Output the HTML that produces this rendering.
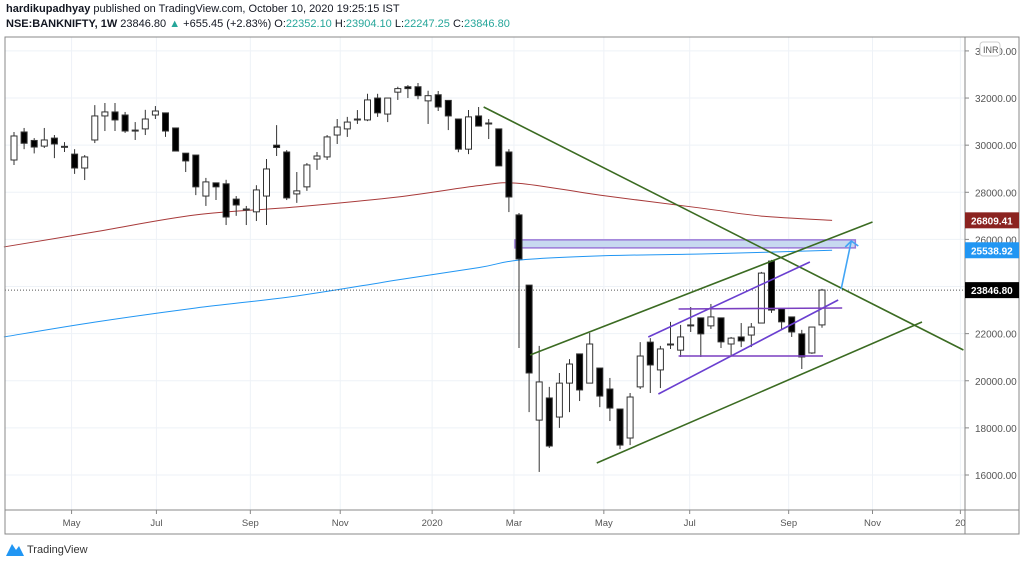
<!DOCTYPE html>
<html><head><meta charset="utf-8">
<style>
body{margin:0;background:#fff;width:1024px;height:564px;overflow:hidden;font-family:"Liberation Sans",sans-serif}
#hdr1{position:absolute;left:6px;top:3px;font-size:11px;color:#131722}
#hdr2{position:absolute;left:6px;top:18px;font-size:11px;color:#131722}
.g{color:#26a69a}
svg{position:absolute;left:0;top:0}
</style></head><body>
<div id="hdr1"><b>hardikupadhyay</b> published on TradingView.com, October 10, 2020 19:25:15 IST</div>
<div id="hdr2"><b>NSE:BANKNIFTY, 1W</b> 23846.80 <span class="g">▲</span> +655.45 (+2.83%) O:<span class="g">22352.10</span> H:<span class="g">23904.10</span> L:<span class="g">22247.25</span> C:<span class="g">23846.80</span></div>
<svg id="c" width="1024" height="564"></svg>
<script>
const opens=[29370,30560,30200,29960,30300,29950,29620,29030,30220,31240,31410,31280,30640,30690,31280,31370,30730,29660,29580,27840,28400,28360,27710,27290,27170,27840,30000,29710,27930,28230,29410,29500,30430,30690,31110,31070,32000,31320,32250,32480,32480,31880,32140,31900,31110,29830,31240,30940,30690,29710,27040,24060,18330,19270,18460,19900,21140,19900,20540,19650,18800,17570,19740,21640,20460,21560,21300,22370,22670,22330,22670,21560,21860,21940,22450,25080,23050,22710,21990,21180,22370];
const highs=[30560,30730,30300,30730,30430,30130,29830,29580,31700,31790,31790,31410,30980,31500,31660,31370,30730,29660,29580,28610,28400,28530,27840,27420,28300,29410,30850,29790,28860,29240,29710,30430,31110,31200,31490,32180,32180,32000,32480,32550,32640,32310,32300,31900,31110,31490,31620,31110,30690,29830,27120,24060,21480,19740,20330,20920,21140,22030,20540,20120,18800,19480,21640,21810,21480,22500,22370,23130,22670,23260,22670,21860,22450,22450,24620,25130,23050,22710,22160,22280,23900];
const lows=[29160,29830,29650,29880,29450,29710,28780,28520,30090,30600,30600,30520,30220,30430,31110,30350,29750,28860,27880,27420,27670,26610,27000,26610,26780,26610,29540,27670,27550,28060,28950,29370,30050,30350,30900,31020,31200,30980,31920,32000,31950,30900,31450,30640,29700,29620,30810,30260,29120,27160,21390,18670,16130,17150,18000,18670,19140,19900,18880,18290,17100,17270,19650,19480,19690,21350,21010,22070,21010,22200,21390,21090,21430,21430,22450,22880,22160,21860,20500,21140,22250];
const closes=[30390,30080,29920,30220,30050,29950,29030,29500,31240,31410,31070,30600,30640,31110,31450,30600,29750,29330,28230,28440,28230,26950,27460,27290,28100,28990,29900,27760,28060,29160,29540,30350,30770,30980,31110,31920,31370,32000,32400,32400,32100,32100,31620,31240,29830,31200,30810,30940,29120,27800,25170,20330,19950,17230,19900,20710,19610,21560,19350,18840,17270,19310,21050,20670,21350,21560,21860,22370,21990,22710,21650,21810,21690,22280,24570,23000,22500,22070,21010,22280,23850];
const maIdx=[-1,8,18,28,38,46,50,58,68,74,81];
const maRed=[25680,26320,27040,27380,27800,28280,28380,27880,27330,26990,26809.41];
const maBlue=[21860,22490,23090,23600,24280,24800,25120,25300,25380,25450,25538.92];
const priceTicks=[34000,32000,30000,28000,26000,24000,22000,20000,18000,16000];
const monthLabels=["May","Jul","Sep","Nov","2020","Mar","May","Jul","Sep","Nov","20"];
const monthPos=[5.7,14.1,23.4,32.3,41.4,49.5,58.4,66.9,76.7,85.0,93.7];
const trendlines=[["downtrend",46.5,31620,94.0,21306,"#3b6b22"],["upper-channel",51.1,21093,85.0,26739,"#3b6b22"],["lower-channel",57.7,16509,89.9,22494,"#3b6b22"],["purple-upper",62.8,21857,78.8,25041,"#6a3fd0"],["purple-lower",63.8,19438,81.6,23428,"#6a3fd0"],["purple-top",65.8,23046,82.0,23088,"#7a3fc0"],["purple-bottom",65.8,21051,80.1,21051,"#7a3fc0"]];
const zone=[49.6,25980,83.3,25640];
const arrow=[81.9,23895,82.9,25932];
const lastPrice=23846.80;

const X=i=>14+i*10.1, Y=p=>475-(p-16000)*0.02356;
const L=5,R=965,T=37,B=510;
const svg=document.getElementById('c'),NS='http://www.w3.org/2000/svg';
function mk(t,a,p){const e=document.createElementNS(NS,t);for(const k in a)e.setAttribute(k,a[k]);(p||svg).appendChild(e);return e;}
const plot=mk('g',{});


priceTicks.forEach(p=>{const l=mk('line',{x1:L,x2:R,y1:Y(p),y2:Y(p),stroke:'#eef2f7'},plot);});
monthPos.forEach(m=>{const l=mk('line',{x1:X(m),x2:X(m),y1:T,y2:B,stroke:'#eef2f7'},plot);});
const z=mk('rect',{x:X(zone[0]),y:Y(zone[1]),width:X(zone[2])-X(zone[0]),height:Y(zone[3])-Y(zone[1]),fill:'#c7d9f0',stroke:'#9b7ad8','stroke-width':1.5},plot);

function ma(vals,col,name){const P=maIdx.map((i,k)=>[X(i),Y(vals[k])]);let d='M'+P[0][0]+','+P[0][1];for(let k=0;k<P.length-1;k++){const p0=P[Math.max(0,k-1)],p1=P[k],p2=P[k+1],p3=P[Math.min(P.length-1,k+2)];d+=`C${p1[0]+(p2[0]-p0[0])/6},${p1[1]+(p2[1]-p0[1])/6} ${p2[0]-(p3[0]-p1[0])/6},${p2[1]-(p3[1]-p1[1])/6} ${p2[0]},${p2[1]}`;}const p=mk('path',{d:d,fill:'none',stroke:col,'stroke-width':1},plot);}
ma(maRed,'#a83a3a','moving-average-red');ma(maBlue,'#2196f3','moving-average-blue');
const dl=mk('line',{x1:L,x2:R,y1:Y(lastPrice),y2:Y(lastPrice),stroke:'#555','stroke-dasharray':'1,2'},plot);

closes.forEach((c,i)=>{const o=opens[i],x=X(i);const g=mk('g',{},plot);
 mk('line',{x1:x,x2:x,y1:Y(highs[i]),y2:Y(lows[i]),stroke:'#333','stroke-width':1},g);
 const t=Math.min(Y(o),Y(c)),h=Math.max(1,Math.abs(Y(o)-Y(c)));
 mk('rect',{x:x-3,y:t,width:6,height:h,fill:c>=o?'#fff':'#000',stroke:'#333','stroke-width':1},g);});
trendlines.forEach(t=>{const l=mk('line',{x1:X(t[1]),y1:Y(t[2]),x2:X(t[3]),y2:Y(t[4]),stroke:t[5],'stroke-width':1.6},plot);});
const ax=X(arrow[0]),ay=Y(arrow[1]),bx=X(arrow[2]),by=Y(arrow[3]);
const ar=mk('path',{d:`M${ax},${ay}L${bx},${by}M${bx-6},${by+6}L${bx},${by}L${bx+7},${by+5}`,fill:'none',stroke:'#42a5f5','stroke-width':1.6},plot);

const fr=mk('rect',{x:L,y:T,width:1019-L,height:534-T,fill:'none',stroke:'#888'});
mk('line',{x1:R,x2:R,y1:T,y2:534,stroke:'#888'});
mk('line',{x1:L,x2:1019,y1:B,y2:B,stroke:'#888'});
priceTicks.forEach(p=>{const t=mk('text',{x:975,y:Y(p)+4,'font-size':10,fill:'#555'});t.textContent=p.toFixed(2);mk('line',{x1:R,x2:R+4,y1:Y(p),y2:Y(p),stroke:'#888'});});
const inr=mk('g',{});
mk('rect',{x:980,y:42,width:20,height:14,rx:3,fill:'#fff',stroke:'#ccc'},inr);
const it=mk('text',{x:983,y:53,'font-size':9,fill:'#555'},inr);it.textContent='INR';
function tag(v,col,name){const y=Y(v);const g=mk('g',{});mk('rect',{x:R,y:y-8,width:54,height:16,fill:col},g);const t=mk('text',{x:971,y:y+4,'font-size':10,fill:'#fff','font-weight':'bold'},g);t.textContent=v.toFixed(2);}
tag(maRed[maRed.length-1],'#8b2320','red-ma-value-tag');tag(maBlue[maBlue.length-1],'#2196f3','blue-ma-value-tag');tag(lastPrice,'#000','last-price-tag');
monthLabels.forEach((m,k)=>{const t=mk('text',{x:X(monthPos[k]),y:526,'font-size':9.5,fill:'#555','text-anchor':'middle'});t.textContent=m;mk('line',{x1:X(monthPos[k]),x2:X(monthPos[k]),y1:B,y2:B+4,stroke:'#888'});});
const lg=mk('g',{});
mk('path',{d:'M6,556L12,544L16,550L19,546L24,556Z',fill:'#2196f3'},lg);
const lt=mk('text',{x:27,y:553,'font-size':11,fill:'#333'},lg);lt.textContent='TradingView';
</script>
</body></html>
